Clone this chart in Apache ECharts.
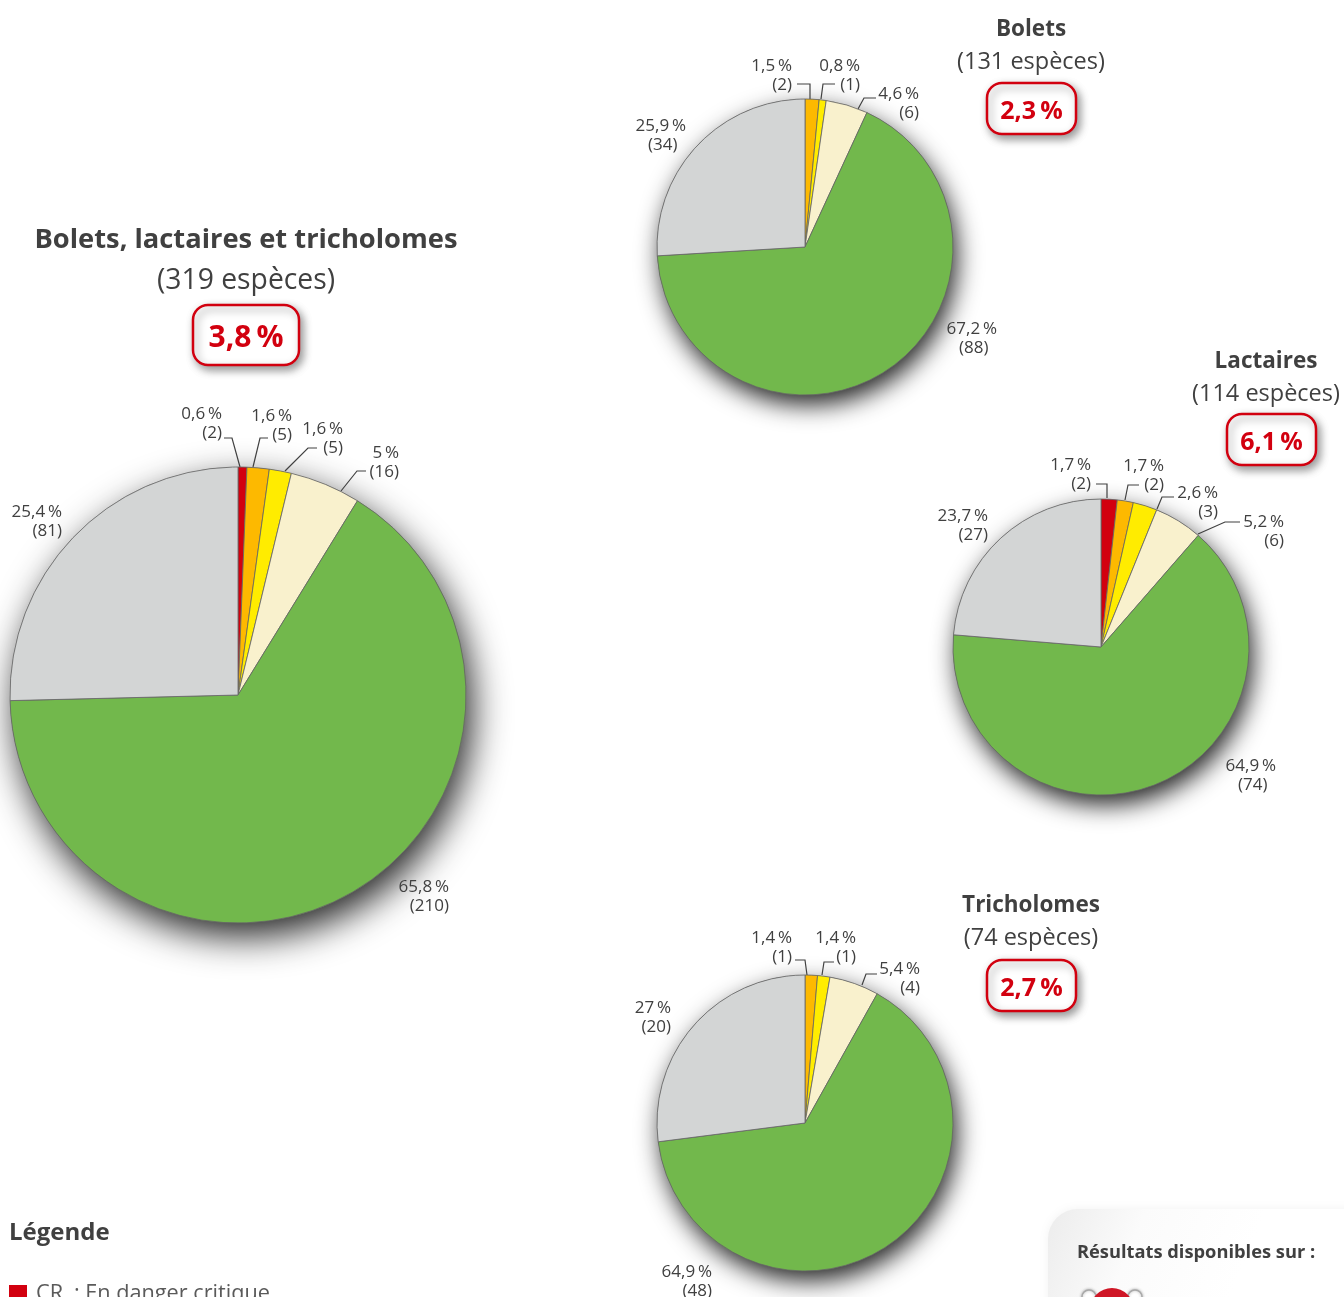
<!DOCTYPE html>
<html lang="fr">
<head>
<meta charset="utf-8">
<title>Bolets, lactaires et tricholomes</title>
<script src="https://cdn.jsdelivr.net/npm/echarts@6/dist/echarts.min.js"></script>
<style>
  html, body { margin: 0; padding: 0; background: #fff; overflow: hidden; }
  #chart { width: 1344px; height: 1297px; }
</style>
</head>
<body>
<div id="chart"></div>
<script>
// données
const categories = ['CR\u2002: En danger critique', 'EN : En danger', 'VU : Vulnérable', 'NT : Quasi menacé', 'LC : Préoccupation mineure', 'DD : Données insuffisantes'];
const colors = ['#d2000f', '#fdb900', '#ffec00', '#f9f1cd', '#72b84c', '#d3d5d5'];

const allValues = [2, 5, 5, 16, 210, 81];
const boletValues = [0, 2, 1, 6, 88, 34];
const lactaireValues = [2, 2, 3, 6, 74, 27];
const tricholomeValues = [0, 1, 1, 4, 48, 20];

const allPct = ['0,6', '1,6', '1,6', '5', '65,8', '25,4'];
const boletPct = ['0', '1,5', '0,8', '4,6', '67,2', '25,9'];
const lactairePct = ['1,7', '1,7', '2,6', '5,2', '64,9', '23,7'];
const tricholomePct = ['0', '1,4', '1,4', '5,4', '64,9', '27'];

const textColor = '#404040';
const redColor = '#d2000f';
const fontName = '"Open Sans", sans-serif';

// mise en page : [bord droit, milieu du label, trait de rappel, 2e ligne décalée]
const charts = [
  {
    values: allValues, pct: allPct, center: [238, 695], radius: 228,
    title: 'Bolets, lactaires et tricholomes', sub: '(319 espèces)', badge: '3,8 %',
    titleX: 246, titleTop: 227, titleSize: 27.3, subSize: 28.3, gap: 13,
    box: [193, 305, 106, 60], badgeSize: 30,
    spots: [
      [222, 424, [[224, 438], [232, 438], [240, 467]]],
      [292, 426, [[268, 438], [260, 438], [253, 467]]],
      [343, 439, [[317, 448], [308, 448], [285, 471]]],
      [399, 463, [[366, 471], [357, 471], [341, 491]]],
      [449, 897],
      [62, 522]
    ]
  },
  {
    values: boletValues, pct: boletPct, center: [805, 247], radius: 148,
    title: 'Bolets', sub: '(131 espèces)', badge: '2,3 %',
    titleX: 1031, titleTop: 18, titleSize: 22.5, subSize: 23.5, gap: 9,
    box: [987, 83, 89, 51], badgeSize: 25,
    spots: [
      null,
      [792, 76, [[797, 84], [810, 84], [810, 99]]],
      [860, 76, [[835, 84], [823, 84], [821, 99]]],
      [919, 104, [[876, 98], [864, 98], [858, 109]]],
      [997, 339, null, true],
      [686, 136, null, true]
    ]
  },
  {
    values: lactaireValues, pct: lactairePct, center: [1101, 647], radius: 148,
    title: 'Lactaires', sub: '(114 espèces)', badge: '6,1 %',
    titleX: 1266, titleTop: 350, titleSize: 22.5, subSize: 23.5, gap: 9,
    box: [1227, 414, 89, 51], badgeSize: 25,
    spots: [
      [1091, 475, [[1096, 484], [1107, 484], [1107, 498]]],
      [1164, 476, [[1139, 485], [1128, 485], [1125, 500]]],
      [1218, 503, [[1174, 497], [1162, 497], [1157, 509]]],
      [1284, 532, [[1240, 522], [1225, 522], [1198, 534]]],
      [1276, 776, null, true],
      [988, 526]
    ]
  },
  {
    values: tricholomeValues, pct: tricholomePct, center: [805, 1123], radius: 148,
    title: 'Tricholomes', sub: '(74 espèces)', badge: '2,7 %',
    titleX: 1031, titleTop: 894, titleSize: 22.5, subSize: 23.5, gap: 9,
    box: [987, 960, 89, 51], badgeSize: 25,
    spots: [
      null,
      [792, 948, [[795, 960], [805, 960], [807, 975]]],
      [856, 948, [[834, 962], [824, 962], [822, 975]]],
      [920, 979, [[877, 974], [866, 974], [862, 985]]],
      [712, 1282],
      [671, 1018]
    ]
  }
];

function sum(list) {
  return list.reduce((a, b) => a + b, 0);
}

const series = [];
const titles = [];
const graphics = [];

// panneau "Résultats disponibles sur" (coupé en bas)
graphics.push({
  type: 'rect', z: 1,
  shape: { x: 1048, y: 1209, width: 340, height: 140, r: 30 },
  style: {
    fill: new echarts.graphic.LinearGradient(0, 0, 0.55, 0.55, [
      { offset: 0, color: '#ececec' },
      { offset: 0.45, color: '#fbfbfb' },
      { offset: 1, color: '#ffffff' }
    ]),
    shadowBlur: 10, shadowColor: 'rgba(0,0,0,0.05)'
  },
  silent: true
});
graphics.push({
  type: 'text', z: 3, left: 1077, top: 1244,
  style: { text: 'Résultats disponibles sur :', fill: textColor, font: 'bold 18.3px ' + fontName }
});
// logo, seul le haut est visible
[1089, 1135].forEach(function (cx) {
  graphics.push({
    type: 'circle', z: 3, silent: true,
    shape: { cx: cx, cy: 1297, r: 7 },
    style: { fill: '#fff', stroke: '#a8a8a8', lineWidth: 1.5, shadowBlur: 3, shadowColor: 'rgba(0,0,0,0.3)' }
  });
});
graphics.push({
  type: 'circle', z: 4, silent: true,
  shape: { cx: 1112, cy: 1310, r: 22 },
  style: { fill: '#cf1626' }
});
graphics.push({
  type: 'text', z: 3, left: 9, top: 1221,
  style: { text: 'Légende', fill: textColor, font: 'bold 24px ' + fontName }
});

charts.forEach(function (c, i) {
  const big = c.radius > 200;
  // disque sous le camembert, porte l'ombre
  series.push({
    type: 'pie', name: 'ombre' + i, silent: true, z: 1, animation: false,
    center: c.center, radius: c.radius,
    label: { show: false }, labelLine: { show: false },
    itemStyle: {
      color: '#666',
      shadowColor: 'rgba(0,0,0,0.85)',
      shadowBlur: big ? 36 : 25,
      shadowOffsetX: big ? 6 : 4,
      shadowOffsetY: big ? 14 : 10
    },
    data: [{ name: 'ombre', value: sum(c.values) }]
  });

  const items = [];
  c.values.forEach(function (v, k) {
    if (v === 0) {
      return;
    }
    const spot = c.spots[k];
    const tail = spot[3] ? '\u2002' : '';
    items.push({
      name: categories[k],
      value: v,
      spot: spot,
      itemStyle: { color: colors[k] },
      label: { formatter: c.pct[k] + '\u2009%\n(' + v + ')' + tail },
      labelLine: { show: !!spot[2] }
    });
  });

  series.push({
    type: 'pie', name: c.title, z: 2, animation: false, silent: true,
    center: c.center, radius: c.radius,
    startAngle: 90, clockwise: true, avoidLabelOverlap: false, minShowLabelAngle: 0,
    itemStyle: { borderColor: '#666', borderWidth: 0.8 },
    label: {
      show: true, position: 'outside', color: textColor,
      fontFamily: fontName, fontSize: 17, lineHeight: 19, align: 'right'
    },
    labelLine: { show: true, lineStyle: { color: '#404040', width: 1.2 } },
    labelLayout: function (params) {
      const spot = items[params.dataIndex].spot;
      const out = { x: spot[0], y: spot[1], align: 'right', verticalAlign: 'middle' };
      if (spot[2]) {
        out.labelLinePoints = spot[2];
      }
      return out;
    },
    data: items
  });

  titles.push({
    text: c.title, subtext: c.sub,
    left: c.titleX, top: c.titleTop, textAlign: 'center', itemGap: c.gap, padding: 0,
    textStyle: { color: textColor, fontFamily: fontName, fontWeight: 'bold', fontSize: c.titleSize },
    subtextStyle: { color: textColor, fontFamily: fontName, fontSize: c.subSize }
  });

  graphics.push({
    type: 'rect', z: 3, silent: true,
    shape: { x: c.box[0], y: c.box[1], width: c.box[2], height: c.box[3], r: 15 },
    style: {
      fill: '#fff', stroke: redColor, lineWidth: 2.5,
      shadowBlur: 9, shadowOffsetX: 3, shadowOffsetY: 4, shadowColor: 'rgba(0,0,0,0.4)'
    }
  });
  graphics.push({
    type: 'text', z: 4, silent: true,
    x: c.box[0] + c.box[2] / 2, y: c.box[1] + c.box[3] / 2 + 3,
    style: {
      text: c.badge.replace(' ', '\u2009'), fill: redColor, align: 'center', verticalAlign: 'middle',
      font: 'bold ' + c.badgeSize + 'px ' + fontName
    }
  });
});

const myChart = echarts.init(document.getElementById('chart'));
myChart.setOption({
  animation: false,
  backgroundColor: '#fff',
  title: titles,
  legend: {
    data: [categories[0]],
    left: 9, top: 1283, padding: 0, itemGap: 8,
    itemWidth: 18, itemHeight: 18, icon: 'rect', selectedMode: false,
    itemStyle: { borderWidth: 0 },
    textStyle: { color: '#5a5a5a', fontFamily: fontName, fontSize: 21.7, padding: [0, 0, 0, 4] }
  },
  series: series,
  graphic: { elements: graphics }
});
</script>
</body>
</html>
